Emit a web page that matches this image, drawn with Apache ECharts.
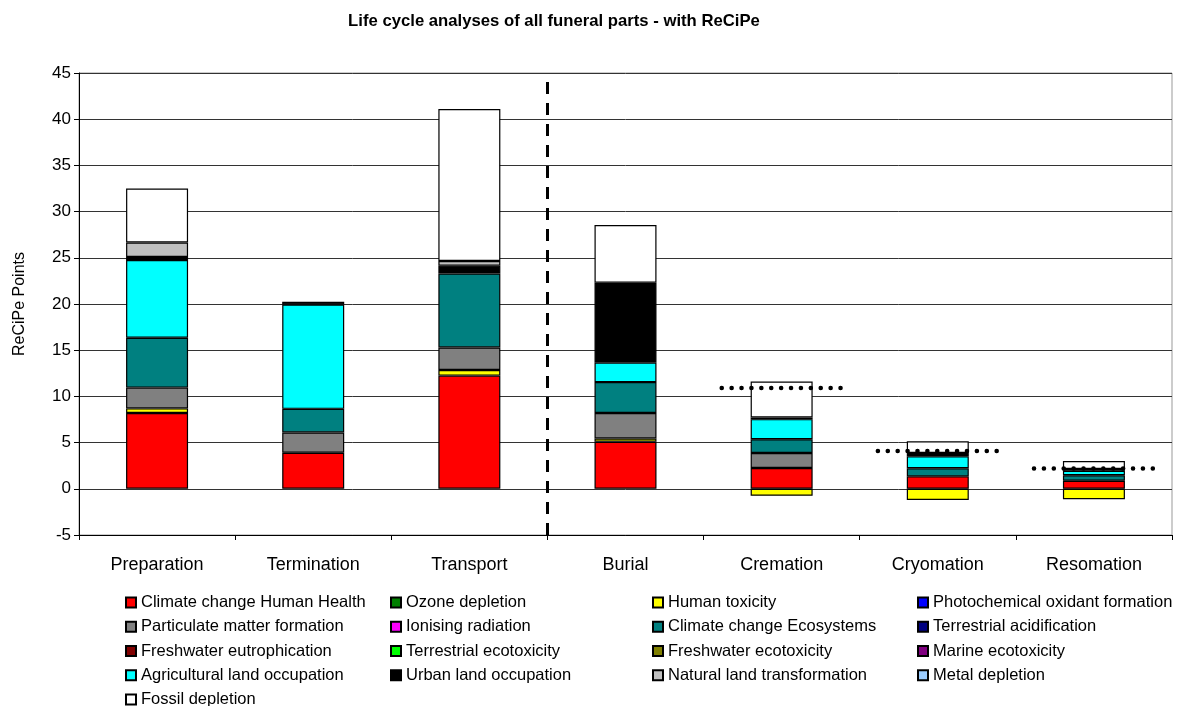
<!DOCTYPE html>
<html>
<head>
    <meta charset="UTF-8">
    <style type="text/css">
        html, body { margin: 0; padding: 0; background: #fff; }
        #chart { width: 1177px; height: 706px; }
    </style>
</head>
<body>
    <div id="chart"></div>
    <script src="https://cdn.jsdelivr.net/npm/echarts@6/dist/echarts.min.js"></script>
    <script type="text/javascript">
        'use strict';
        var categories = ['Preparation', 'Termination', 'Transport', 'Burial', 'Cremation', 'Cryomation', 'Resomation'];

        // impact categories, stacked bottom to top in this order
        var climateHumanHealth = [8.2, 3.9, 12.25, 5.1, 2.25, 1.35, 0.87];
        var ozoneDepletion = [0, 0, 0, 0, 0, 0, 0];
        var humanToxicity = [0.5, 0, 0.6, 0.35, -0.76, -1.2, -1.12];
        var photochemOxidant = [0, 0, 0, 0, 0, 0, 0];
        var particulateMatter = [2.25, 2.2, 2.45, 2.75, 1.62, 0, 0];
        var ionisingRadiation = [0, 0, 0, 0, 0, 0, 0];
        var climateEcosystems = [5.4, 2.55, 8.0, 3.35, 1.5, 0.87, 0.6];
        var terrAcidification = [0, 0, 0, 0, 0, 0, 0];
        var fwEutrophication = [0, 0, 0, 0, 0, 0, 0];
        var terrEcotoxicity = [0, 0, 0, 0, 0, 0, 0];
        var fwEcotoxicity = [0, 0, 0, 0, 0, 0, 0];
        var marineEcotoxicity = [0, 0, 0, 0, 0, 0, 0];
        var agriLandOccupation = [8.4, 11.3, 0, 2.1, 2.17, 1.3, 0.47];
        var urbanLandOccupation = [0.35, 0.3, 0.85, 8.65, 0.18, 0.36, 0.2];
        var naturalLandTransf = [1.55, 0, 0.5, 0, 0, 0, 0];
        var metalDepletion = [0, 0, 0, 0, 0, 0, 0];
        var fossilDepletion = [5.85, 0, 16.45, 6.25, 3.9, 1.26, 0.87];

        // dotted reference levels drawn over the last three bars
        var refLevels = [null, null, null, null, 10.9, 4.1, 2.2];

        var yTicks = { min: -5, max: 45, interval: 5 };

        var impacts = [
            ['Climate change Human Health', climateHumanHealth, '#FF0000'],
            ['Ozone depletion', ozoneDepletion, '#008000'],
            ['Human toxicity', humanToxicity, '#FFFF00'],
            ['Photochemical oxidant formation', photochemOxidant, '#0000FF'],
            ['Particulate matter formation', particulateMatter, '#808080'],
            ['Ionising radiation', ionisingRadiation, '#FF00FF'],
            ['Climate change Ecosystems', climateEcosystems, '#008080'],
            ['Terrestrial acidification', terrAcidification, '#000080'],
            ['Freshwater eutrophication', fwEutrophication, '#800000'],
            ['Terrestrial ecotoxicity', terrEcotoxicity, '#00FF00'],
            ['Freshwater ecotoxicity', fwEcotoxicity, '#808000'],
            ['Marine ecotoxicity', marineEcotoxicity, '#800080'],
            ['Agricultural land occupation', agriLandOccupation, '#00FFFF'],
            ['Urban land occupation', urbanLandOccupation, '#000000'],
            ['Natural land transformation', naturalLandTransf, '#C0C0C0'],
            ['Metal depletion', metalDepletion, '#99CCFF'],
            ['Fossil depletion', fossilDepletion, '#FFFFFF']
        ];

        var font = 'Liberation Sans, Arial, sans-serif';

        var series = impacts.map(function (imp) {
            return {
                name: imp[0],
                type: 'bar',
                stack: 'total',
                barWidth: 62,
                xAxisIndex: 0,
                itemStyle: { color: imp[2], borderColor: '#000', borderWidth: 1.2 },
                data: imp[1].map(function (v) { return v === 0 ? '-' : v; })
            };
        });

        // dotted lines, on a hidden value x-axis where category i spans [i, i+1]
        refLevels.forEach(function (v, i) {
            if (v === null) return;
            series.push({
                type: 'line',
                xAxisIndex: 1,
                symbol: 'none',
                silent: true,
                z: 5,
                lineStyle: { color: '#000', width: 4.5, type: [0.1, 9.8], cap: 'round' },
                data: [[i + 0.5 - 0.384, v], [i + 0.5 + 0.384, v]]
            });
        });

        // dashed separator between Transport and Burial
        series.push({
            type: 'line',
            xAxisIndex: 1,
            data: [],
            markLine: {
                silent: true,
                symbol: 'none',
                label: { show: false },
                lineStyle: { color: '#000', width: 3, type: [12, 9] },
                data: [{ xAxis: 3 }]
            }
        });

        // legend laid out in four columns like the original
        var columns = [[], [], [], []];
        impacts.forEach(function (imp, i) { columns[i % 4].push(imp[0]); });
        var colLeft = [125, 390, 652, 917];
        var legends = columns.map(function (names, c) {
            return {
                data: names,
                orient: 'vertical',
                left: colLeft[c],
                top: 594,
                height: 140,
                itemWidth: 10,
                itemHeight: 10,
                itemGap: 7.25,
                padding: 0,
                icon: 'rect',
                selectedMode: false,
                textStyle: { fontFamily: font, fontSize: 16.5, color: '#000', lineHeight: 17 }
            };
        });

        var chart = echarts.init(document.getElementById('chart'), null, { renderer: 'canvas' });
        chart.setOption({
            animation: false,
            backgroundColor: '#fff',
            title: {
                text: 'Life cycle analyses of all funeral parts - with ReCiPe',
                left: 549,
                textAlign: 'center',
                top: 8,
                textStyle: { fontFamily: font, fontSize: 16.7, fontWeight: 'bold', color: '#000' }
            },
            legend: legends,
            grid: {
                left: 79, right: 5, top: 73, bottom: 171,
                containLabel: false,
                outerBoundsMode: 'none',
                show: true, borderColor: '#999', borderWidth: 1
            },
            xAxis: [{
                type: 'category',
                data: categories,
                axisLine: { onZero: false, lineStyle: { color: '#000', width: 1 } },
                axisTick: { show: true, interval: 0, length: 5, lineStyle: { color: '#000' } },
                axisLabel: { fontFamily: font, fontSize: 18, color: '#000', margin: 21 },
                splitLine: { show: false }
            }, {
                type: 'value',
                min: 0, max: 7,
                show: false
            }],
            yAxis: {
                type: 'value',
                min: yTicks.min, max: yTicks.max, interval: yTicks.interval,
                name: 'ReCiPe Points',
                nameLocation: 'middle',
                nameGap: 51,
                nameTextStyle: { fontFamily: font, fontSize: 16, color: '#000' },
                axisLine: { show: true, lineStyle: { color: '#000' } },
                axisTick: { show: true, length: 5, lineStyle: { color: '#000' } },
                axisLabel: { fontFamily: font, fontSize: 17, color: '#000', margin: 8 },
                splitLine: { lineStyle: { color: '#333', width: 1 } }
            },
            series: series
        });
    </script>
</body>
</html>
